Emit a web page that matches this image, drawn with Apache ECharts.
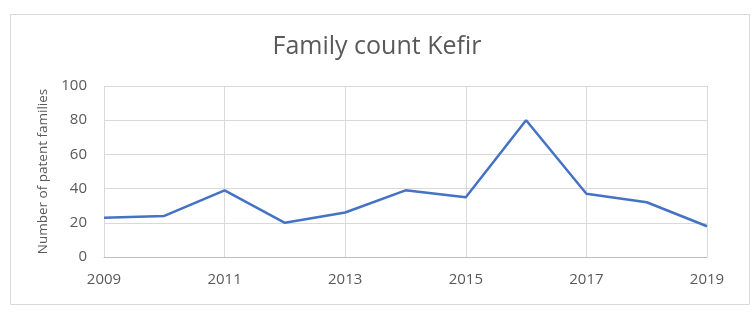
<!DOCTYPE html>
<html><head><meta charset="utf-8">
<script src="https://cdn.jsdelivr.net/npm/echarts@6/dist/echarts.min.js"></script>
<style>html,body{margin:0;padding:0;background:#fff}#c{width:754px;height:314px}</style>
</head><body><div id="c"></div>
<script>
const years = ['2009','2010','2011','2012','2013','2014','2015','2016','2017','2018','2019'];
const families = [23, 24, 39, 20, 26, 39, 35, 80, 37, 32, 18];
const yTicks = {min: 0, max: 100, interval: 20};
const titleText = 'Family count Kefir';
const yName = 'Number of patent families';

const chart = echarts.init(document.getElementById('c'), null, {renderer: 'canvas'});
const font = '"Open Sans", "Liberation Sans", sans-serif';
chart.setOption({
  animation: false,
  graphic: [{type: 'rect', left: 8, top: 12, shape: {width: 739, height: 290}, style: {fill: 'none', stroke: '#d9d9d9', lineWidth: 1}, silent: true}],
  title: {text: titleText, left: 'center', top: 29, textStyle: {fontFamily: font, fontSize: 25, fontWeight: 'normal', color: '#595959'}},
  grid: {left: 104, right: 47, top: 86, bottom: 57},
  xAxis: {
    type: 'category', data: years, boundaryGap: false,
    axisLine: {lineStyle: {color: '#bfbfbf', width: 1}},
    axisTick: {show: false},
    axisLabel: {interval: 1, margin: 15, fontFamily: font, fontSize: 15, color: '#595959'},
    splitLine: {show: true, interval: 1, lineStyle: {color: '#d9d9d9', width: 1}}
  },
  yAxis: {
    type: 'value', min: yTicks.min, max: yTicks.max, interval: yTicks.interval,
    name: yName, nameLocation: 'middle', nameGap: 52, nameRotate: 90,
    nameTextStyle: {fontFamily: font, fontSize: 13.5, color: '#595959', padding: [0, 0, 0, 0]},
    axisLine: {show: false}, axisTick: {show: false},
    axisLabel: {margin: 17, fontFamily: font, fontSize: 15, color: '#595959'},
    splitLine: {lineStyle: {color: '#d9d9d9', width: 1}}
  },
  series: [{type: 'line', data: families, symbol: 'none', lineStyle: {color: '#4472C4', width: 2.5}, itemStyle: {color: '#4472C4'}}]
});
</script></body></html>
